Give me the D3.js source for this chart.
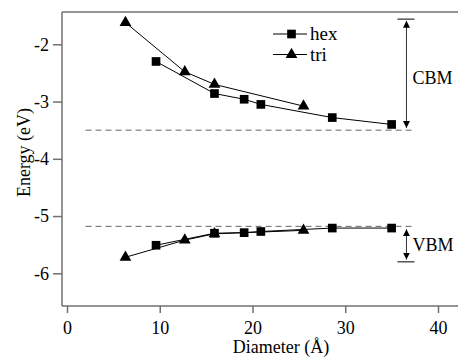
<!DOCTYPE html>
<html><head><meta charset="utf-8">
<script src="https://cdn.jsdelivr.net/npm/d3@7"></script>
<style>body{margin:0;background:#fff}svg{display:block}text{font-family:"Liberation Serif","Times New Roman",serif;fill:#000}</style>
</head><body><svg id="c" width="458" height="358"></svg>
<script>
const hexX = [9.6, 15.9, 19.1, 20.9, 28.6, 35.0];
const hexCBM = [-2.30, -2.86, -2.96, -3.05, -3.28, -3.40];
const hexVBM = [-5.51, -5.30, -5.29, -5.27, -5.21, -5.21];
const triX = [6.3, 12.7, 15.9, 25.5];
const triCBM = [-1.62, -2.48, -2.70, -3.08];
const triVBM = [-5.72, -5.42, -5.31, -5.25];
const xTicks = [0, 10, 20, 30, 40];
const yTicks = [-2, -3, -4, -5, -6];
const refLines = [-3.5, -5.18];
const refRange = [2, 37.3];
const cbmBar = [-1.56, -3.5];
const vbmBar = [-5.2, -5.8];
const bracketX = 36.6;

(function () {
const svg = d3.select("#c");
const x = d3.scaleLinear().domain([0, 40]).range([67, 438]);
const y = d3.scaleLinear().domain([-2, -6]).range([44.3, 273.3]);
const pL = 62, pT = 12, pB = 306, pR = 458;
const axisCol = "#707070";

svg.append("line").attr("x1", pL).attr("x2", pR).attr("y1", pT).attr("y2", pT)
  .attr("stroke", axisCol).attr("stroke-width", 1.5);

const xa = svg.append("g").attr("transform", `translate(0,${pB})`)
  .call(d3.axisBottom(x).tickValues(xTicks).tickSize(7).tickPadding(8).tickFormat(d3.format("d")));
xa.select(".domain").attr("d", `M${pL},0H${pR}`);
const ya = svg.append("g").attr("transform", `translate(${pL},0)`)
  .call(d3.axisLeft(y).tickValues(yTicks).tickSize(9).tickPadding(4).tickFormat(d => String(d)));
ya.select(".domain").attr("d", `M0,${pT}V${pB}`);
[xa, ya].forEach(a => {
  a.selectAll(".domain").attr("stroke", axisCol).attr("stroke-width", 1.5);
  a.selectAll(".tick line").attr("stroke", axisCol).attr("stroke-width", 1.5);
  a.selectAll("text").attr("font-size", 18).attr("font-family", "Liberation Serif").attr("fill", "#000");
});

refLines.forEach(v => svg.append("line")
  .attr("x1", x(refRange[0])).attr("x2", x(refRange[1])).attr("y1", y(v)).attr("y2", y(v))
  .attr("stroke", "#666").attr("stroke-width", 1).attr("stroke-dasharray", "6,4"));

const line = d3.line().x(d => x(d[0])).y(d => y(d[1]));
const tri = d3.symbol().type(d3.symbolTriangle).size(60);
const sq = d3.symbol().type(d3.symbolSquare).size(75);

function series(xs, ys, sym) {
  const pts = xs.map((v, i) => [v, ys[i]]);
  svg.append("path").attr("d", line(pts)).attr("fill", "none").attr("stroke", "#000").attr("stroke-width", 1);
  svg.selectAll(null).data(pts).enter().append("path")
    .attr("d", sym).attr("transform", d => `translate(${x(d[0])},${y(d[1])})`).attr("fill", "#000");
}
series(hexX, hexCBM, sq);
series(hexX, hexVBM, sq);
series(triX, triCBM, tri);
series(triX, triVBM, tri);

const legItems = [["hex", sq], ["tri", tri]];
legItems.forEach((it, i) => {
  const ly = 34 + i * 20.5;
  svg.append("line").attr("x1", 273).attr("x2", 307).attr("y1", ly).attr("y2", ly).attr("stroke", "#000");
  svg.append("path").attr("d", it[1]).attr("transform", `translate(291.5,${ly})`).attr("fill", "#000");
  svg.append("text").attr("x", 310).attr("y", ly + 6).attr("font-size", 19).text(it[0]);
});

const defs = svg.append("defs");
defs.append("marker").attr("id", "ah").attr("viewBox", "0 0 10 10").attr("refX", 10).attr("refY", 5)
  .attr("markerWidth", 7).attr("markerHeight", 7).attr("markerUnits", "userSpaceOnUse").attr("orient", "auto-start-reverse")
  .append("path").attr("d", "M0,0L10,5L0,10Z").attr("fill", "#000");
function bracket(v, label, barVal, textY) {
  const bx = x(bracketX);
  svg.append("line").attr("x1", bx).attr("x2", bx).attr("y1", y(v[0])).attr("y2", y(v[1]))
    .attr("stroke", "#333").attr("stroke-width", 1)
    .attr("marker-start", "url(#ah)").attr("marker-end", "url(#ah)");
  const by = y(barVal);
  svg.append("line").attr("x1", bx - 9).attr("x2", bx + 8).attr("y1", by).attr("y2", by).attr("stroke", "#000").attr("stroke-width", 1);
  svg.append("text").attr("x", bx + 6).attr("y", textY).attr("font-size", 18).text(label);
}
bracket([cbmBar[0] - 0.03, cbmBar[1] + 0.04], "CBM", cbmBar[0], 84);
bracket([vbmBar[0] - 0.03, vbmBar[1] + 0.04], "VBM", vbmBar[1], 251);

svg.append("text").attr("x", 281).attr("y", 353).attr("text-anchor", "middle").attr("font-size", 18).text("Diameter (Å)");
svg.append("text").attr("transform", "translate(29.5,152.5) rotate(-90)").attr("text-anchor", "middle").attr("font-size", 18).text("Energy (eV)");
})();
</script></body></html>
